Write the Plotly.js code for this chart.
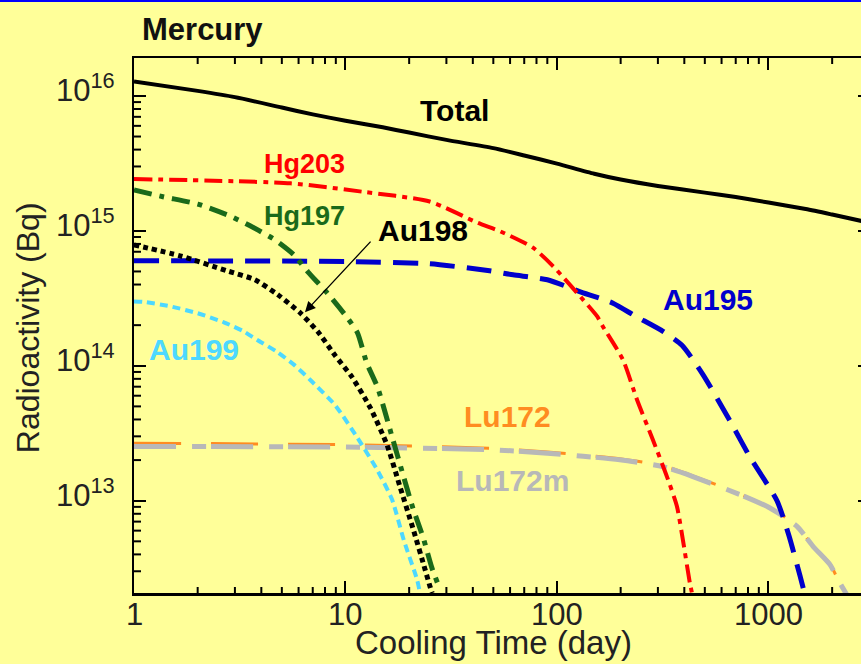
<!DOCTYPE html>
<html>
<head>
<meta charset="utf-8">
<script src="https://cdn.plot.ly/plotly-3.0.1.min.js"></script>
<style>
  html, body { margin: 0; padding: 0; overflow: hidden; background: #FFFF99; }
  #chart { width: 870px; height: 664px; }
  #topbar { position: absolute; left: 0; top: 0; width: 100%; height: 2px; background: #0000FF; z-index: 10; }
</style>
</head>
<body>
<div id="topbar"></div>
<div id="chart"></div>
<script>
// ---- data (cooling time in days, radioactivity in Bq) ----
const totalX = [1, 2, 3, 5, 7, 10, 15, 20, 30, 50, 70, 100, 150, 200, 300, 500, 700, 1000, 1500, 2000, 3000];
const totalY = [1.28e16, 1.09e16, 9.8e15, 8.2e15, 7.3e15, 6.55e15, 5.85e15, 5.35e15, 4.72e15, 4.1e15, 3.62e15, 3.15e15, 2.65e15, 2.4e15, 2.15e15, 1.92e15, 1.78e15, 1.62e15, 1.45e15, 1.32e15, 1.15e15];

const hg203X = [1, 5.5, 12, 25, 42, 54, 77, 96, 133, 155, 165, 205, 239, 284, 331, 369, 394, 425, 440];
const hg203Y = [2.42e15, 2.25e15, 1.95e15, 1.65e15, 1.15e15, 9.9e14, 7.5e14, 5.45e14, 3.08e14, 2.32e14, 1.95e14, 1.11e14, 5.6e13, 2.83e13, 1.51e13, 9.1e12, 5.1e12, 2.45e12, 1.9e12];

const hg197X = [1, 1.37, 2, 2.84, 3.54, 4.64, 5.7, 6.64, 8.17, 10.2, 11.4, 12.6, 14.2, 16.6, 18.7, 20.8, 23.3, 25.6, 28];
const hg197Y = [2.01e15, 1.79e15, 1.58e15, 1.29e15, 1.09e15, 8.57e14, 6.64e14, 4.97e14, 3.48e14, 2.27e14, 1.75e14, 1.05e14, 6.87e13, 2.98e13, 1.56e13, 8.87e12, 5.32e12, 3.19e12, 2.19e12];

const au198X = [1, 1.65, 2.75, 3.73, 4.79, 6.1, 7.4, 8.9, 10.7, 13.1, 15.7, 18.1, 20.8, 23.8, 25.1, 25.7];
const au198Y = [7.87e14, 6.53e14, 5.06e14, 4.34e14, 3.36e14, 2.47e14, 1.79e14, 1.2e14, 8.3e13, 4.89e13, 2.6e13, 1.27e13, 6.3e12, 3.08e12, 2.31e12, 2.07e12];

const au199X = [1, 1.1, 1.48, 2, 2.66, 3.3, 3.81, 4.74, 5.7, 6.8, 8.9, 11.3, 14.1, 16.6, 18.9, 21.8, 22.5];
const au199Y = [3.0e14, 2.98e14, 2.76e14, 2.45e14, 2.1e14, 1.8e14, 1.56e14, 1.27e14, 1.02e14, 7.87e13, 5.14e13, 2.98e13, 1.7e13, 1.02e13, 5.06e12, 2.6e12, 2.07e12];

const au195X = [1, 10, 25, 48, 62, 90, 128, 184, 234, 317, 390, 490, 658, 818, 1097, 1250, 1409, 1480];
const au195Y = [6.0e14, 5.93e14, 5.7e14, 5.06e14, 4.72e14, 4.34e14, 3.55e14, 2.91e14, 2.34e14, 1.8e14, 1.42e14, 8.6e13, 3.9e13, 2.1e13, 1.0e13, 5.5e12, 2.78e12, 2.07e12];

const luX = [1, 10, 48, 90, 198, 316, 439, 733, 1016, 1364, 1624, 1954, 2132, 2350];
const lu172Y = [2.67e13, 2.6e13, 2.45e13, 2.3e13, 2.05e13, 1.82e13, 1.53e13, 1.12e13, 8.9e12, 6.5e12, 4.6e12, 3.4e12, 2.6e12, 2.0e12];
const lu172mY = [2.52e13, 2.5e13, 2.39e13, 2.25e13, 2.01e13, 1.79e13, 1.51e13, 1.11e13, 8.83e12, 6.46e12, 4.59e12, 3.36e12, 2.6e12, 2.0e12];

const xTickVals = [1, 10, 100, 1000];
const xTickText = ['1', '10', '100', '1000'];
const yTickVals = [1e13, 1e14, 1e15, 1e16];
const yTickText = ['10<sup>13</sup>', '10<sup>14</sup>', '10<sup>15</sup>', '10<sup>16</sup>'];

const X_RANGE = [0, 3.48];
const Y_RANGE = [12.316, 16.281];
const PLOT_W = 736, PLOT_H = 535;
const FONT = 'Arial, "Liberation Sans", sans-serif';

// minor tick positions (2..9 in each decade, inside the axis ranges)
const minorX = [], minorY = [];
for (let d = 0; d <= 3; d++) for (let k = 2; k <= 9; k++) {
  const v = k * Math.pow(10, d); if (Math.log10(v) < X_RANGE[1]) minorX.push(v);
}
for (let d = 12; d <= 16; d++) for (let k = 2; k <= 9; k++) {
  const v = k * Math.pow(10, d); const lv = Math.log10(v);
  if (lv > Y_RANGE[0] && lv < Y_RANGE[1]) minorY.push(v);
}
// minor tick length (6-7 px) expressed as a factor along each log axis
const xMin = Math.pow(10, X_RANGE[0]);
const yMin = Math.pow(10, Y_RANGE[0]), yMax = Math.pow(10, Y_RANGE[1]);
const fx = Math.pow(10, 7 * (X_RANGE[1] - X_RANGE[0]) / PLOT_W);
const fy = Math.pow(10, 6 * (Y_RANGE[1] - Y_RANGE[0]) / PLOT_H);

const tickBX = [], tickBY = [], tickTX = [], tickTY = [], tickLX = [], tickLY = [];
minorX.forEach(function (v) {
  tickBX.push(v, v, null); tickBY.push(yMin, yMin * fy, null);
  tickTX.push(v, v, null); tickTY.push(yMax, yMax / fy, null);
});
minorY.forEach(function (v) {
  tickLX.push(xMin, xMin * fx, null); tickLY.push(v, v, null);
});

function tickTrace(x, y) {
  return { x: x, y: y, type: 'scatter', mode: 'lines', showlegend: false, hoverinfo: 'skip',
           connectgaps: false, line: { color: '#000000', width: 2 } };
}

function tr(x, y, color, width, dash) {
  return { x: x, y: y, type: 'scatter', mode: 'lines', showlegend: false,
           line: { color: color, width: width, dash: dash, shape: 'spline', smoothing: 0.6 }, hoverinfo: 'skip' };
}

const traces = [
  tickTrace(tickBX, tickBY),
  tickTrace(tickTX, tickTY),
  tickTrace(tickLX, tickLY),
  tr(luX, lu172Y, '#FF8C21', 3, '47px,30px'),
  tr(luX, lu172mY, '#B8B8B8', 5, '42px,16px,14px,5px'),
  tr(au195X, au195Y, '#0000CC', 5, '25px,12px'),
  tr(au199X, au199Y, '#4DD8FF', 4, '8px,5px'),
  tr(au198X, au198Y, '#000000', 5, '5px,4px'),
  tr(hg197X, hg197Y, '#1A6A1A', 5, '18px,8px,5px,8px'),
  tr(hg203X, hg203Y, '#FF0000', 4, '18px,6px,5px,6px'),
  tr(totalX, totalY, '#000000', 4, 'solid')
];

function lab(text, x, y, color, size) {
  return { text: '<b>' + text + '</b>', xref: 'paper', yref: 'paper', x: x, y: y,
           xanchor: 'center', yanchor: 'middle', showarrow: false,
           font: { family: FONT, size: size, color: color } };
}

const annotations = [
  lab('Total', 0.436, 0.901, '#000000', 30),
  lab('Hg203', 0.232, 0.802, '#FF0000', 27),
  lab('Hg197', 0.232, 0.705, '#1A6A1A', 27),
  lab('Au198', 0.393, 0.677, '#000000', 30),
  lab('Au195', 0.780, 0.548, '#0000CC', 30),
  lab('Au199', 0.0815, 0.456, '#4DD8FF', 30),
  lab('Lu172', 0.507, 0.329, '#FF8C21', 30),
  lab('Lu172m', 0.514, 0.211, '#B8B8B8', 30),
  { text: '', xref: 'paper', yref: 'paper', x: 0.2323, y: 0.525, ax: 67, ay: -72,
    showarrow: true, arrowhead: 2, arrowsize: 1.6, arrowwidth: 1.3, arrowcolor: '#000000' },
  { text: 'Cooling Time (day)', xref: 'paper', yref: 'paper', x: 0.488, y: -0.1308,
    xanchor: 'center', yanchor: 'bottom', showarrow: false,
    font: { family: FONT, size: 33, color: '#222222' } },
  { text: 'Radioactivity (Bq)', xref: 'paper', yref: 'paper', x: -0.144, y: 0.495,
    xanchor: 'center', yanchor: 'middle', textangle: -90, showarrow: false,
    font: { family: FONT, size: 32, color: '#222222' } }
];
// tick labels placed as in the reference
xTickVals.forEach(function (v, i) {
  annotations.push({ text: xTickText[i], xref: 'x', yref: 'paper', x: Math.log10(v), y: -0.041,
    xanchor: 'center', yanchor: 'middle', showarrow: false,
    font: { family: FONT, size: 31, color: '#222222' } });
});
yTickVals.forEach(function (v, i) {
  annotations.push({ text: yTickText[i], xref: 'paper', yref: 'y', x: -17 / 736, y: Math.log10(v),
    xanchor: 'right', yanchor: 'middle', yshift: 8, showarrow: false,
    font: { family: FONT, size: 31, color: '#222222' } });
});

const axisCommon = {
  type: 'log', showgrid: false, zeroline: false,
  showline: true, linecolor: '#000000', linewidth: 2.5, mirror: 'ticks',
  ticks: 'inside', ticklen: 12, tickwidth: 2, tickcolor: '#000000',
  tickmode: 'array', showticklabels: false
};

const layout = {
  width: 870, height: 664,
  margin: { l: 134, r: 0, t: 58, b: 71 },
  paper_bgcolor: '#FFFF99', plot_bgcolor: '#FFFF99',
  title: { text: '<b>Mercury</b>', xref: 'container', yref: 'container',
           x: 142 / 870, xanchor: 'left', y: 1 - 29 / 664, yanchor: 'middle',
           font: { family: FONT, size: 31, color: '#111111' } },
  xaxis: Object.assign({}, axisCommon, { range: X_RANGE, tickvals: xTickVals, ticktext: xTickText }),
  yaxis: Object.assign({}, axisCommon, { range: Y_RANGE, tickvals: yTickVals, ticktext: yTickText }),
  annotations: annotations
};

Plotly.newPlot('chart', traces, layout, { staticPlot: true, displayModeBar: false });
</script>
</body>
</html>
